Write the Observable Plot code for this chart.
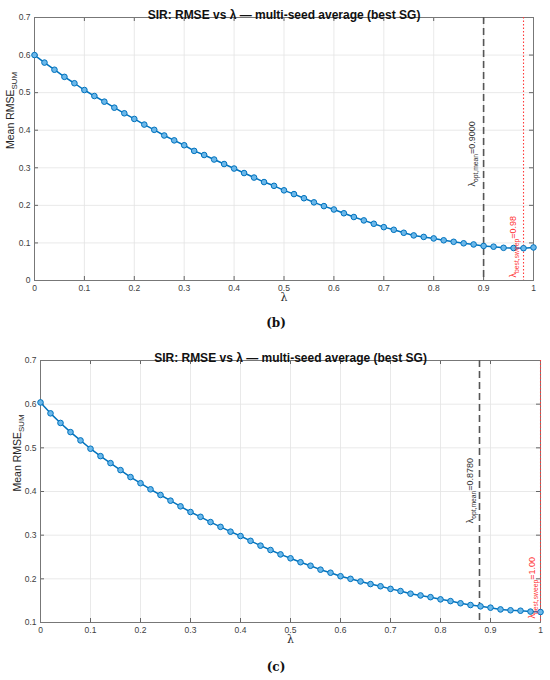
<!DOCTYPE html>
<html><head><meta charset="utf-8">
<script src="https://cdn.jsdelivr.net/npm/d3@7"></script>
<script src="https://cdn.jsdelivr.net/npm/@observablehq/plot@0.6"></script>
<style>
body{margin:0;background:#fff;width:550px;height:680px;position:relative;overflow:hidden;font-family:"Liberation Sans",Arial,sans-serif}
.cap{position:absolute;left:0;width:552px;text-align:center;font-family:"DejaVu Serif","Liberation Serif",serif;font-weight:bold;font-size:12px;color:#111}
.chart{position:absolute;left:0}
</style></head><body>
<div id="c1" class="chart" style="top:0"></div>
<div class="cap" style="top:316px">(b)</div>
<div id="c2" class="chart" style="top:340px"></div>
<div class="cap" style="top:660px">(c)</div>
<script>
const lambda = [0.00,0.02,0.04,0.06,0.08,0.10,0.12,0.14,0.16,0.18,0.20,0.22,0.24,0.26,0.28,0.30,0.32,0.34,0.36,0.38,0.40,0.42,0.44,0.46,0.48,0.50,0.52,0.54,0.56,0.58,0.60,0.62,0.64,0.66,0.68,0.70,0.72,0.74,0.76,0.78,0.80,0.82,0.84,0.86,0.88,0.90,0.92,0.94,0.96,0.98,1.00];
const rmseB = [0.600,0.580,0.561,0.542,0.525,0.507,0.491,0.476,0.460,0.445,0.430,0.415,0.401,0.386,0.373,0.360,0.345,0.334,0.322,0.310,0.298,0.286,0.274,0.262,0.252,0.240,0.230,0.219,0.208,0.198,0.189,0.179,0.169,0.160,0.151,0.142,0.135,0.127,0.120,0.116,0.112,0.107,0.103,0.099,0.096,0.092,0.090,0.087,0.0865,0.086,0.088];
const rmseC = [0.604,0.579,0.557,0.536,0.517,0.498,0.481,0.465,0.449,0.433,0.419,0.405,0.392,0.379,0.366,0.353,0.342,0.330,0.319,0.308,0.298,0.287,0.276,0.266,0.256,0.247,0.238,0.230,0.221,0.214,0.206,0.200,0.194,0.188,0.183,0.177,0.172,0.166,0.162,0.158,0.153,0.149,0.144,0.140,0.137,0.134,0.130,0.128,0.127,0.125,0.124];
const xTicks = [0,0.1,0.2,0.3,0.4,0.5,0.6,0.7,0.8,0.9,1];
const yTicksB = [0,0.1,0.2,0.3,0.4,0.5,0.6,0.7];
const yTicksC = [0.1,0.2,0.3,0.4,0.5,0.6,0.7];
const titleText = "SIR: RMSE vs λ — multi-seed average (best SG)";
const yLabelText = "Mean RMSE_{SUM}";
const xLabelText = "λ";
const optB = 0.9, optLabelB = "λ_{opt,mean}=0.9000";
const bestB = 0.98, bestLabelB = "λ_{best,sweep}=0.98";
const optC = 0.878, optLabelC = "λ_{opt,mean}=0.8780";
const bestC = 1.0, bestLabelC = "λ_{best,sweep}=1.00";

const fmt = d => d === 0 ? "0" : d === 1 ? "1" : d.toFixed(1);

function subscripts(svg){
  svg.querySelectorAll("text").forEach(t => {
    const s = t.textContent;
    if (!s.includes("_{")) return;
    const fsEl = t.closest("[font-size]");
    const fs = fsEl ? parseFloat(fsEl.getAttribute("font-size")) : 10;
    const shift = fs * 0.3;
    const parts = s.split(/(_\{[^}]*\})/);
    t.textContent = "";
    let shifted = false;
    for (const p of parts) {
      if (!p) continue;
      const ts = document.createElementNS("http://www.w3.org/2000/svg","tspan");
      if (p.startsWith("_{")) {
        ts.textContent = p.slice(2,-1);
        ts.setAttribute("font-size", (fs*0.75).toFixed(2));
        ts.setAttribute("dy", shift.toFixed(2));
        shifted = true;
      } else {
        ts.textContent = p;
        if (shifted) { ts.setAttribute("dy", (-shift).toFixed(2)); shifted = false; }
      }
      t.appendChild(ts);
    }
  });
}

function chart({values, yDomain, yTicks, opt, optLabel, best, bestLabel, height, mTop, mBottom, mLeft, mRight, optDx, bestDx, bestDy, optY, yLabelDx}){
  const data = lambda.map((l,i) => ({l, v: values[i]}));
  const [y0, y1] = yDomain;
  const plotH = height - mTop - mBottom;
  const plotW = 550 - mLeft - mRight;
  const tyl = 4 * (y1 - y0) / plotH;
  const txl = 4 / plotW;
  return Plot.plot({
    width: 550, height,
    marginTop: mTop, marginBottom: mBottom, marginLeft: mLeft, marginRight: mRight,
    style: {fontSize: "8.5px", fontFamily: "'Liberation Sans', Arial, sans-serif", color: "#404040", background: "#fff"},
    x: {domain: [0,1], ticks: xTicks, tickFormat: fmt, tickSize: 0, tickPadding: 4, label: null},
    y: {domain: yDomain, ticks: yTicks, tickFormat: fmt, tickSize: 0, tickPadding: 4, label: null},
    marks: [
      Plot.ruleX(xTicks, {x: d => d, stroke: "#e3e3e3", strokeWidth: 0.8}),
      Plot.ruleY(yTicks, {y: d => d, stroke: "#e3e3e3", strokeWidth: 0.8}),
      Plot.ruleX(xTicks, {x: d => d, y1: y0, y2: y0 + tyl, stroke: "#666"}),
      Plot.ruleX(xTicks, {x: d => d, y1: y1, y2: y1 - tyl, stroke: "#666"}),
      Plot.ruleY(yTicks, {y: d => d, x1: 0, x2: txl, stroke: "#666"}),
      Plot.ruleY(yTicks, {y: d => d, x1: 1, x2: 1 - txl, stroke: "#666"}),
      Plot.frame({stroke: "#777", strokeWidth: 1}),
      Plot.ruleX([opt], {x: d => d, stroke: "#555", strokeWidth: 1.6, strokeDasharray: "7,4"}),
      Plot.ruleX([best], {x: d => d, stroke: "#ff3b3b", strokeWidth: 1.1, strokeDasharray: "1.5,2"}),
      Plot.line(data, {x: "l", y: "v", stroke: "#0072BD", strokeWidth: 1.5}),
      Plot.dot(data, {x: "l", y: "v", r: 2.8, stroke: "#0072BD", strokeWidth: 1, fill: "#6cb8ea"}),
      Plot.text([optLabel], {x: () => opt, y: () => optY, text: d => d, rotate: -90, dx: optDx, textAnchor: "middle", fontSize: 9, fill: "#333"}),
      Plot.text([bestLabel], {x: () => best, y: () => y0, text: d => d, rotate: -90, dx: bestDx, dy: bestDy, textAnchor: "start", fontSize: 9, fill: "#ff3030"}),
      Plot.text([titleText], {frameAnchor: "top", text: d => d, dy: -7, fontSize: 12, fontWeight: "bold", fill: "#111"}),
      Plot.text([yLabelText], {frameAnchor: "left", text: d => d, rotate: -90, dx: yLabelDx, fontSize: 10.5, fill: "#262626"}),
      Plot.text([xLabelText], {frameAnchor: "bottom", text: d => d, lineAnchor: "top", dy: 13, fontSize: 11, fill: "#262626", fontFamily: "'DejaVu Serif', serif"})
    ]
  });
}

const svg1 = chart({values: rmseB, yDomain: [0,0.7], yTicks: yTicksB, opt: optB, optLabel: optLabelB, best: bestB, bestLabel: bestLabelB,
  height: 310, mTop: 17, mBottom: 30, mLeft: 34, mRight: 17, optDx: -11, bestDx: -10, bestDy: -3, optY: 0.337, yLabelDx: -24});
subscripts(svg1);
document.getElementById("c1").appendChild(svg1);

const svg2 = chart({values: rmseC, yDomain: [0.1,0.7], yTicks: yTicksC, opt: optC, optLabel: optLabelC, best: bestC, bestLabel: bestLabelC,
  height: 313, mTop: 20, mBottom: 31, mLeft: 40, mRight: 10, optDx: -9, bestDx: -8, bestDy: -4, optY: 0.402, yLabelDx: -23});
subscripts(svg2);
document.getElementById("c2").appendChild(svg2);
</script>
</body></html>
